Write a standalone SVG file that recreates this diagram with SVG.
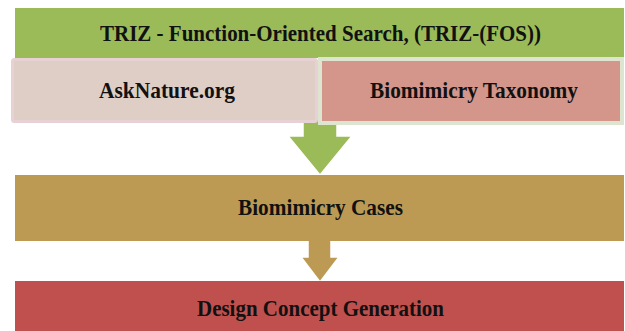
<svg xmlns="http://www.w3.org/2000/svg" width="625" height="331" viewBox="0 0 625 331">
<style>
  .lbl { font-family: "Liberation Serif", "Times New Roman", serif; font-weight: bold; font-size: 23px; fill: #111; text-anchor: middle; }
  .arrow { stroke: #ffffff; stroke-width: 1.5; stroke-linejoin: miter; }
</style>
<rect width="625" height="331" fill="#ffffff"/>
<g id="connectors">
  <polygon class="arrow" fill="#9BBB59" points="303,118 337,118 337,136 352,136 320,175 288,136 303,136"/>
  <polygon class="arrow" fill="#BD9A54" points="308,240 331,240 331,257 339,257 320,282 301,257 308,257"/>
</g>
<g id="node-triz">
  <rect x="15" y="8" width="609" height="50" fill="#9BBB59"/>
  <text class="lbl" x="320.5" y="41" textLength="441" lengthAdjust="spacingAndGlyphs">TRIZ - Function-Oriented Search, (TRIZ-(FOS))</text>
</g>
<g id="node-asknature">
  <rect x="12.5" y="59.5" width="304" height="62" rx="2" fill="#DFCEC6" stroke="#E8D1D5" stroke-width="3"/>
  <text class="lbl" x="167" y="98" textLength="136" lengthAdjust="spacingAndGlyphs">AskNature.org</text>
</g>
<g id="node-taxonomy">
  <rect x="320" y="59" width="302" height="64" fill="#D4958A" stroke="#DDE5D0" stroke-width="4"/>
  <text class="lbl" x="474" y="98" textLength="208" lengthAdjust="spacingAndGlyphs">Biomimicry Taxonomy</text>
</g>
<g id="node-cases">
  <rect x="15" y="175" width="609" height="66" fill="#BD9A54"/>
  <text class="lbl" x="320.5" y="215" textLength="165" lengthAdjust="spacingAndGlyphs">Biomimicry Cases</text>
</g>
<g id="node-design">
  <rect x="15" y="281" width="609" height="52" fill="#C0504D"/>
  <text class="lbl" x="320.5" y="316" textLength="247" lengthAdjust="spacingAndGlyphs">Design Concept Generation</text>
</g>
</svg>
